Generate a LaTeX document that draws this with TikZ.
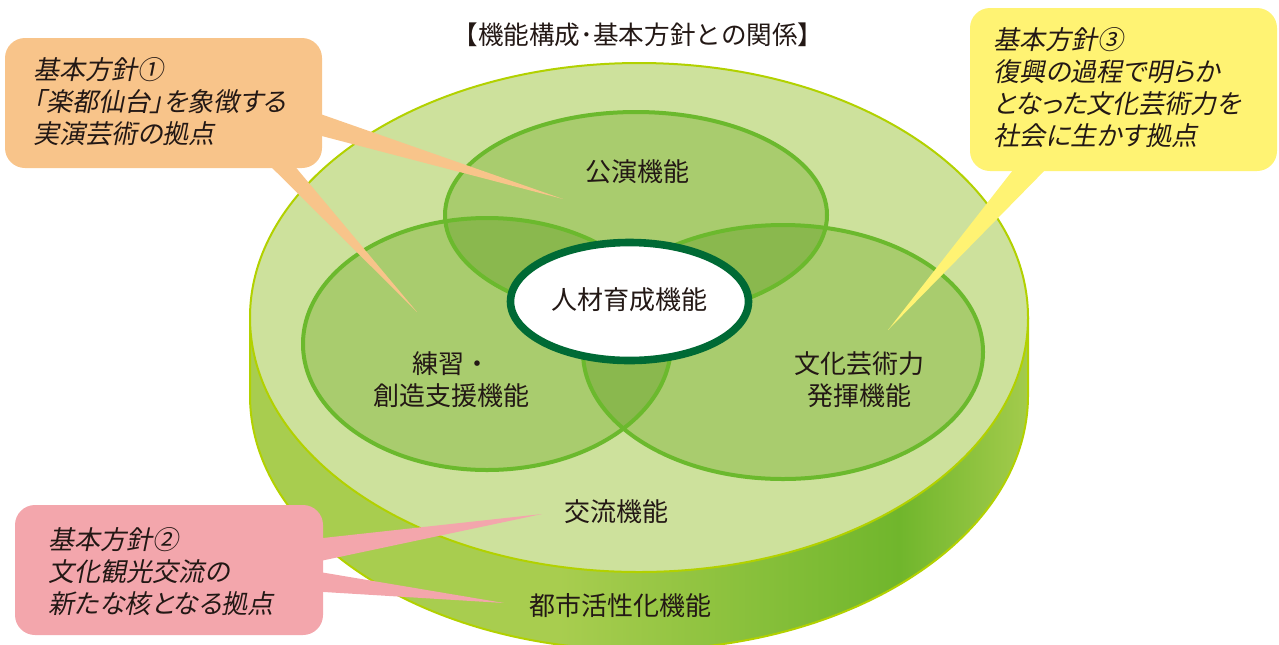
\documentclass[tikz,border=0pt]{standalone}
\usepackage{fontspec}
\usepackage{tikz}
\usetikzlibrary{shapes.geometric}
\newfontfamily\jp{Noto Sans CJK JP}
\newfontfamily\jpit[FakeSlant=0.2, RawFeature=+palt]{Noto Sans CJK JP}
\definecolor{topC}{HTML}{CDE19C}
\definecolor{rimC}{HTML}{B2D100}
\definecolor{sideA}{HTML}{A8CD4F}
\definecolor{sideB}{HTML}{70B62C}
\definecolor{circC}{HTML}{A9CC6E}
\definecolor{overC}{HTML}{8AB84E}
\definecolor{circLine}{HTML}{6BB92D}
\definecolor{ringC}{HTML}{006A35}
\definecolor{orangeC}{HTML}{F8C48A}
\definecolor{yellowC}{HTML}{FFF373}
\definecolor{pinkC}{HTML}{F3A6AC}
\definecolor{textC}{HTML}{231815}
\tikzstyle{func} = [font=\jp\fontsize{13}{16}\selectfont, text=textC,
    align=center, inner sep=0pt]
\tikzstyle{hoshin} = [font=\jpit\fontsize{13}{16}\selectfont, text=textC,
    align=left, inner sep=0pt, anchor=west]
\tikzstyle{bubble} = [rectangle, rounded corners=10pt, inner sep=0pt]
\tikzstyle{rim} = [draw=rimC, line width=1pt]
\tikzstyle{ring} = [draw=circLine, line width=2pt]

\begin{document}
\begin{tikzpicture}[x=0.5pt, y=-0.5pt]
    \useasboundingbox (0,0) rectangle (1279,644);
    % side of the disc
    \begin{scope}
        \clip (250,317.5) -- (250,395.5) arc [start angle=180, end angle=0, x radius=389, y radius=254.5] -- (1028,317.5) -- cycle;
        \fill [sideA] (240,300) rectangle (560,660);
        \shade [left color=sideA, right color=sideB] (559,300) rectangle (900,660);
        \shade [left color=sideB, right color=sideA] (899,300) rectangle (1040,660);
    \end{scope}
    \draw [rim] (250,317.5) -- (250,395.5) arc [start angle=180, end angle=0, x radius=389, y radius=254.5] -- (1028,317.5);
    % top face
    \draw [rim, fill=topC] (639,317.5) ellipse [x radius=389, y radius=254.5];
    % three functions
    \fill [circC] (636,215) ellipse [x radius=191, y radius=103];
    \fill [circC] (487,344) ellipse [x radius=184, y radius=126];
    \fill [circC] (783,352) ellipse [x radius=200, y radius=127];
    \begin{scope}
        \clip (636,215) ellipse [x radius=191, y radius=103];
        \fill [overC] (487,344) ellipse [x radius=184, y radius=126];
        \fill [overC] (783,352) ellipse [x radius=200, y radius=127];
    \end{scope}
    \begin{scope}
        \clip (487,344) ellipse [x radius=184, y radius=126];
        \fill [overC] (783,352) ellipse [x radius=200, y radius=127];
    \end{scope}
    \draw [ring] (636,215) ellipse [x radius=191, y radius=103];
    \draw [ring] (487,344) ellipse [x radius=184, y radius=126];
    \draw [ring] (783,352) ellipse [x radius=200, y radius=127];
    \node [ellipse, draw=ringC, line width=3.8pt, fill=white, minimum width=119pt,
        minimum height=59pt, inner sep=0pt] (jinzaiRing) at (629.5,301.5) {};
    % labels
    \node [func, font=\jp\fontsize{12.8}{15}\selectfont] (title) at (638,35) {【機能構成･基本方針との関係】};
    \node [func] (koen) at (637,172) {公演機能};
    \node [func] (jinzai) at (629,300) {人材育成機能};
    \node [func] (renshu) at (451,380) {練習・\\創造支援機能};
    \node [func] (bunka) at (859,380) {文化芸術力\\発揮機能};
    \node [func] (koryu) at (616,512) {交流機能};
    \node [func] (toshi) at (620,606) {都市活性化機能};
    % callouts
    \coordinate (tip1a) at (563,199);
    \coordinate (tip1b) at (417,312);
    \coordinate (tip2a) at (542,514);
    \coordinate (tip2b) at (504,603);
    \coordinate (tip3) at (888,330);
    \node [bubble, fill=orangeC, minimum width=158.5pt, minimum height=65pt] (box1) at (163.5,103) {};
    \node [bubble, fill=pinkC, minimum width=154pt, minimum height=65pt] (box2) at (169,570) {};
    \node [bubble, fill=yellowC, minimum width=153.5pt, minimum height=81.5pt] (box3) at (1123.5,89.5) {};
    \fill [orangeC] ([xshift=-3pt,yshift=-37.5pt]box1.north east) -- (tip1a) -- ([xshift=-3pt,yshift=-48.5pt]box1.north east) -- cycle;
    \fill [orangeC] ([xshift=131pt,yshift=3pt]box1.south west) -- (tip1b) -- ([xshift=143.5pt,yshift=3pt]box1.south west) -- cycle;
    \fill [pinkC] ([xshift=-3pt,yshift=-17pt]box2.north east) -- (tip2a) -- ([xshift=-3pt,yshift=-28.5pt]box2.north east) -- cycle;
    \fill [pinkC] ([xshift=-3pt,yshift=-33.5pt]box2.north east) -- (tip2b) -- ([xshift=-3pt,yshift=-43.5pt]box2.north east) -- cycle;
    \fill [yellowC] ([xshift=23.5pt,yshift=3pt]box3.south west) -- (tip3) -- ([xshift=40pt,yshift=3pt]box3.south west) -- cycle;
    \node [hoshin] (hoshin1) at (33,102) {基本方針①\\「楽都仙台」を象徴する\\実演芸術の拠点};
    \node [hoshin] (hoshin2) at (48,572) {基本方針②\\文化観光交流の\\新たな核となる拠点};
    \node [hoshin] (hoshin3) at (993,88) {基本方針③\\復興の過程で明らか\\となった文化芸術力を\\社会に生かす拠点};
\end{tikzpicture}
\end{document}
